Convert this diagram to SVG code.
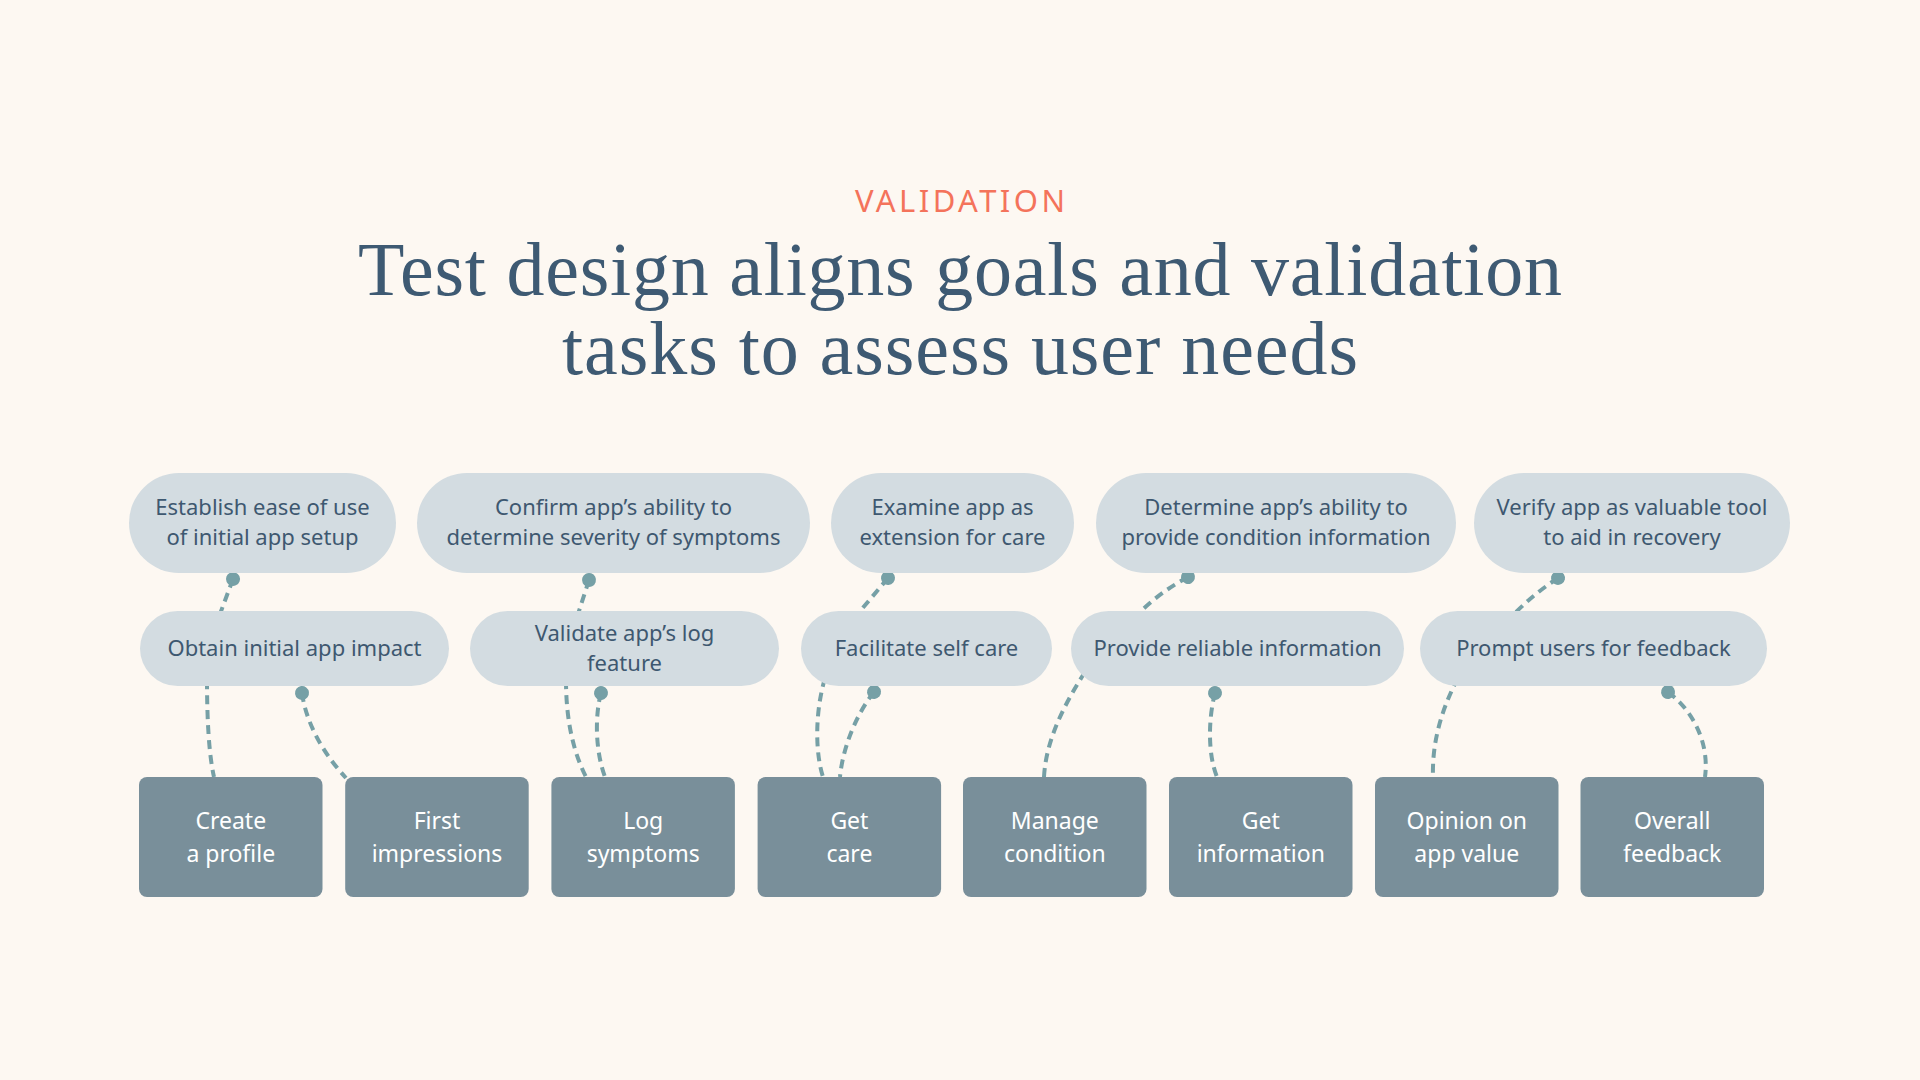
<svg xmlns="http://www.w3.org/2000/svg" width="1920" height="1080" viewBox="0 0 1920 1080">
  <defs>
    <style>
      .bg { fill: #FDF8F2; }
      .eyebrow { font-family: "Noto Sans", "Liberation Sans", sans-serif; font-size: 31px; fill: #F4735B; text-anchor: middle; }
      .title { font-family: "Liberation Serif", "DejaVu Serif", serif; font-size: 76px; fill: #3E5A73; text-anchor: middle; }
      .pill { fill: #D3DCE1; }
      .ptext { font-family: "Noto Sans", "Liberation Sans", sans-serif; font-size: 22px; fill: #3E5870; text-anchor: middle; }
      .box { fill: #798F9A; }
      .btext { font-family: "Noto Sans", "Liberation Sans", sans-serif; font-size: 23px; fill: #FFFFFF; text-anchor: middle; }
      .conn { fill: none; stroke: #76A0A6; stroke-width: 4; stroke-dasharray: 9 6; }
      .dotted { marker-start: url(#dot); }
    </style>
    <marker id="dot" viewBox="-8 -8 16 16" markerWidth="16" markerHeight="16" refX="0" refY="0" markerUnits="userSpaceOnUse" orient="auto">
      <circle cx="0" cy="0" r="7" fill="#76A0A6"/>
    </marker>
  </defs>

  <rect class="bg" x="0" y="0" width="1920" height="1080"/>

  <g id="header">
    <text class="eyebrow" x="960" y="212" textLength="210" lengthAdjust="spacing">VALIDATION</text>
    <text class="title" x="960" y="295" textLength="1204" lengthAdjust="spacing">Test design aligns goals and validation</text>
    <text class="title" x="960" y="374" textLength="796" lengthAdjust="spacing">tasks to assess user needs</text>
  </g>

  <g id="connectors">
    <!-- goal to task -->
    <path class="conn dotted" d="M233,579 L220,614"/>
    <path class="conn dotted" d="M589,580 L578,614"/>
    <path class="conn dotted" d="M888,578 L856,616"/>
    <path class="conn dotted" d="M1188,577 Q1160,592 1138,614"/>
    <path class="conn dotted" d="M1558,578 Q1535,593 1514,614"/>
    <!-- task to activity -->
    <path class="conn" d="M207,680 C207,720 209,755 214,777"/>
    <path class="conn dotted" d="M302,693 C306,722 322,752 346,778"/>
    <path class="conn" d="M566,680 C566,725 575,755 586,777"/>
    <path class="conn dotted" d="M601,693 C595,715 595,750 605,777"/>
    <path class="conn" d="M825,678 C815,712 815,752 823,777"/>
    <path class="conn dotted" d="M874,692 C858,712 843,745 840,777"/>
    <path class="conn" d="M1085,672 C1064,705 1046,740 1044,777"/>
    <path class="conn dotted" d="M1215,693 C1208,720 1208,755 1217,777"/>
    <path class="conn" d="M1458,678 C1440,712 1432,745 1433,777"/>
    <path class="conn dotted" d="M1668,692 C1690,708 1710,740 1705,777"/>
  </g>

  <g id="goal-1">
    <rect class="pill" x="129" y="473" width="267" height="100" rx="50"/>
    <text class="ptext" x="262.5" y="515">Establish ease of use</text>
    <text class="ptext" x="262.5" y="545">of initial app setup</text>
  </g>
  <g id="goal-2">
    <rect class="pill" x="417" y="473" width="393" height="100" rx="50"/>
    <text class="ptext" x="613.5" y="515">Confirm app’s ability to</text>
    <text class="ptext" x="613.5" y="545">determine severity of symptoms</text>
  </g>
  <g id="goal-3">
    <rect class="pill" x="831" y="473" width="243" height="100" rx="50"/>
    <text class="ptext" x="952.5" y="515">Examine app as</text>
    <text class="ptext" x="952.5" y="545">extension for care</text>
  </g>
  <g id="goal-4">
    <rect class="pill" x="1096" y="473" width="360" height="100" rx="50"/>
    <text class="ptext" x="1276" y="515">Determine app’s ability to</text>
    <text class="ptext" x="1276" y="545">provide condition information</text>
  </g>
  <g id="goal-5">
    <rect class="pill" x="1474" y="473" width="316" height="100" rx="50"/>
    <text class="ptext" x="1632" y="515">Verify app as valuable tool</text>
    <text class="ptext" x="1632" y="545">to aid in recovery</text>
  </g>

  <g id="task-1">
    <rect class="pill" x="140" y="611" width="309" height="75" rx="37.5"/>
    <text class="ptext" x="294.5" y="655.5">Obtain initial app impact</text>
  </g>
  <g id="task-2">
    <rect class="pill" x="470" y="611" width="309" height="75" rx="37.5"/>
    <text class="ptext" x="624.5" y="640.5">Validate app’s log</text>
    <text class="ptext" x="624.5" y="670.5">feature</text>
  </g>
  <g id="task-3">
    <rect class="pill" x="801" y="611" width="251" height="75" rx="37.5"/>
    <text class="ptext" x="926.5" y="655.5">Facilitate self care</text>
  </g>
  <g id="task-4">
    <rect class="pill" x="1071" y="611" width="333" height="75" rx="37.5"/>
    <text class="ptext" x="1237.5" y="655.5">Provide reliable information</text>
  </g>
  <g id="task-5">
    <rect class="pill" x="1420" y="611" width="347" height="75" rx="37.5"/>
    <text class="ptext" x="1593.5" y="655.5">Prompt users for feedback</text>
  </g>

  <g id="activity-1">
    <rect class="box" x="139" y="777" width="183.5" height="120" rx="8"/>
    <text class="btext" x="230.75" y="828.5">Create</text>
    <text class="btext" x="230.75" y="861.5">a profile</text>
  </g>
  <g id="activity-2">
    <rect class="box" x="345.2" y="777" width="183.5" height="120" rx="8"/>
    <text class="btext" x="437" y="828.5">First</text>
    <text class="btext" x="437" y="861.5">impressions</text>
  </g>
  <g id="activity-3">
    <rect class="box" x="551.4" y="777" width="183.5" height="120" rx="8"/>
    <text class="btext" x="643.2" y="828.5">Log</text>
    <text class="btext" x="643.2" y="861.5">symptoms</text>
  </g>
  <g id="activity-4">
    <rect class="box" x="757.6" y="777" width="183.5" height="120" rx="8"/>
    <text class="btext" x="849.4" y="828.5">Get</text>
    <text class="btext" x="849.4" y="861.5">care</text>
  </g>
  <g id="activity-5">
    <rect class="box" x="963" y="777" width="183.5" height="120" rx="8"/>
    <text class="btext" x="1054.8" y="828.5">Manage</text>
    <text class="btext" x="1054.8" y="861.5">condition</text>
  </g>
  <g id="activity-6">
    <rect class="box" x="1169" y="777" width="183.5" height="120" rx="8"/>
    <text class="btext" x="1260.8" y="828.5">Get</text>
    <text class="btext" x="1260.8" y="861.5">information</text>
  </g>
  <g id="activity-7">
    <rect class="box" x="1375" y="777" width="183.5" height="120" rx="8"/>
    <text class="btext" x="1466.8" y="828.5">Opinion on</text>
    <text class="btext" x="1466.8" y="861.5">app value</text>
  </g>
  <g id="activity-8">
    <rect class="box" x="1580.5" y="777" width="183.5" height="120" rx="8"/>
    <text class="btext" x="1672.2" y="828.5">Overall</text>
    <text class="btext" x="1672.2" y="861.5">feedback</text>
  </g>
</svg>
